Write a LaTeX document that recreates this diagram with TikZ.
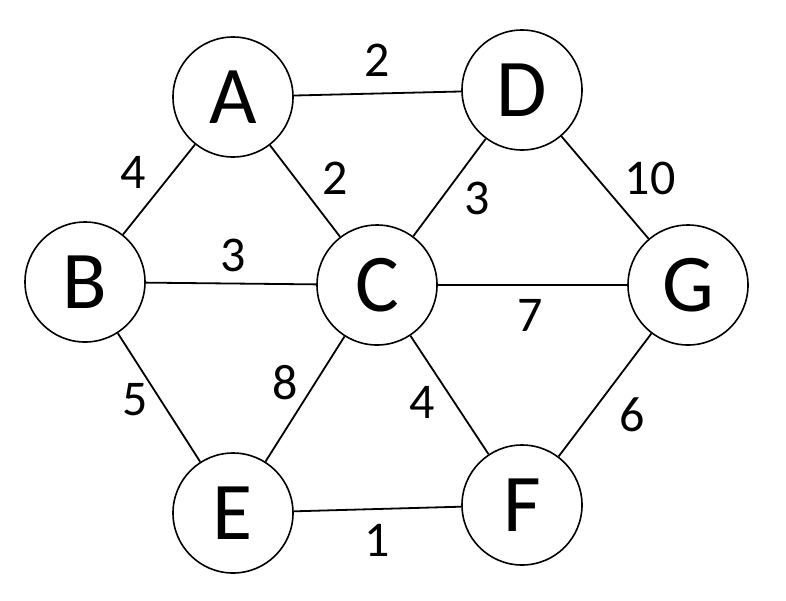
\documentclass[tikz,border=0pt]{standalone}
\usepackage{fontspec}
\setmainfont{Carlito}
\begin{document}
\begin{tikzpicture}[x=1pt,y=-1pt,
  vert/.style={circle,draw,line width=1.6pt,minimum size=120pt,inner sep=0pt,font=\fontsize{82}{82}\selectfont},
  wt/.style={font=\fontsize{50}{50}\selectfont,inner sep=0pt},
  edge/.style={line width=1.8pt}]
\useasboundingbox (0,0) rectangle (786,600);
\node[vert] (A) at (233,97) {A};
\node[vert] (D) at (522,90) {D};
\node[vert] (B) at (85,282) {B};
\node[vert] (C) at (377,285) {C};
\node[vert] (G) at (688,285) {G};
\node[vert] (E) at (233,513) {E};
\node[vert] (F) at (522,505) {F};
\draw[edge] (A)--(D) (A)--(B) (A)--(C) (D)--(C) (D)--(G) (B)--(C) (C)--(G)
  (B)--(E) (C)--(E) (C)--(F) (G)--(F) (E)--(F);
\node[wt] (w1) at (377,60) {2};
\node[wt] (w2) at (133,172) {4};
\node[wt] (w3) at (335,178) {2};
\node[wt] (w4) at (477,198) {3};
\node[wt] (w5) at (650,178) {10};
\node[wt] (w6) at (233,255) {3};
\node[wt] (w7) at (530,315) {7};
\node[wt] (w8) at (135,400) {5};
\node[wt] (w9) at (285,383) {8};
\node[wt] (w10) at (422,402) {4};
\node[wt] (w11) at (632,415) {6};
\node[wt] (w12) at (377,540) {1};
\end{tikzpicture}
\end{document}
